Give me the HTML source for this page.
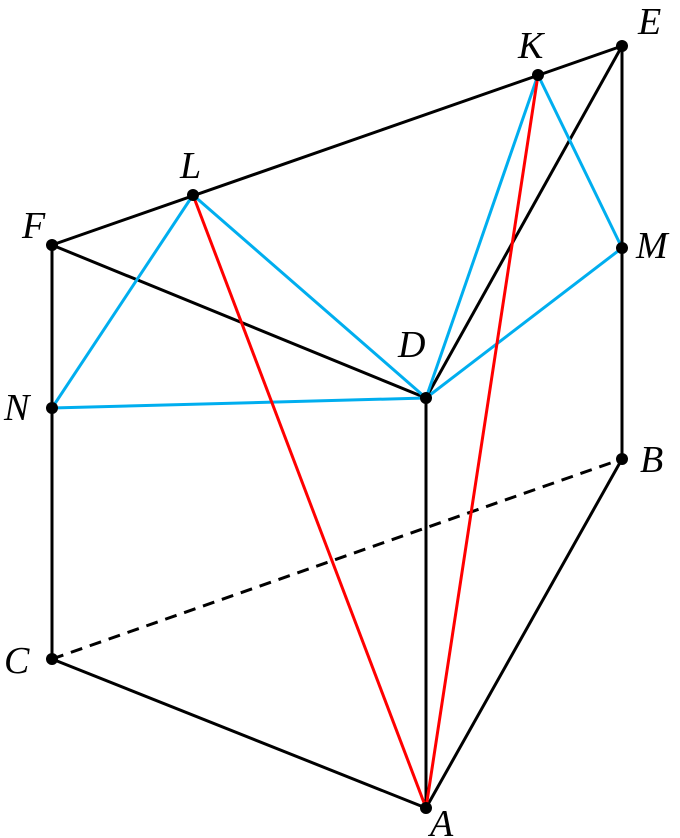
<!DOCTYPE html>
<html><head><style>body{margin:0;background:#fff}svg{display:block}text{font-family:"Liberation Serif",serif;font-style:italic;font-size:38px;fill:#000}</style></head>
<body>
<svg width="680" height="838" viewBox="0 0 680 838" xmlns="http://www.w3.org/2000/svg">
<g stroke="#000" stroke-width="3" fill="none">
<line x1="52" y1="245" x2="622" y2="46"/>
<line x1="52" y1="245" x2="52" y2="659"/>
<line x1="622" y1="46" x2="622" y2="459"/>
<line x1="52" y1="245" x2="426" y2="398"/>
<line x1="426" y1="398" x2="426" y2="808"/>
<line x1="426" y1="398" x2="622" y2="46"/>
<line x1="52" y1="659" x2="426" y2="808"/>
<line x1="426" y1="808" x2="622" y2="459"/>
<line x1="52" y1="659" x2="622" y2="459" stroke-dasharray="12,8"/>
</g>
<g stroke="#00aeef" stroke-width="3">
<line x1="193" y1="195" x2="52" y2="408"/>
<line x1="193" y1="195" x2="426" y2="398"/>
<line x1="52" y1="408" x2="426" y2="398"/>
<line x1="538" y1="75" x2="426" y2="398"/>
<line x1="538" y1="75" x2="622" y2="248"/>
<line x1="622" y1="248" x2="426" y2="398"/>
</g>
<g stroke="#ff0000" stroke-width="3">
<line x1="193" y1="195" x2="426" y2="808"/>
<line x1="538" y1="75" x2="426" y2="808"/>
</g>
<g fill="#000">
<circle cx="622" cy="46" r="6"/><circle cx="538" cy="75" r="6"/><circle cx="193" cy="195" r="6"/>
<circle cx="52" cy="245" r="6"/><circle cx="622" cy="248" r="6"/><circle cx="426" cy="398" r="6"/>
<circle cx="52" cy="408" r="6"/><circle cx="622" cy="459" r="6"/><circle cx="52" cy="659" r="6"/>
<circle cx="426" cy="808" r="6"/>
</g>
<text x="638" y="34">E</text>
<text x="518" y="58">K</text>
<text x="180" y="178">L</text>
<text x="22" y="238">F</text>
<text x="636" y="258">M</text>
<text x="398" y="357">D</text>
<text x="4" y="420">N</text>
<text x="640" y="472">B</text>
<text x="4" y="673">C</text>
<text x="430" y="836">A</text>
</svg>
</body></html>
